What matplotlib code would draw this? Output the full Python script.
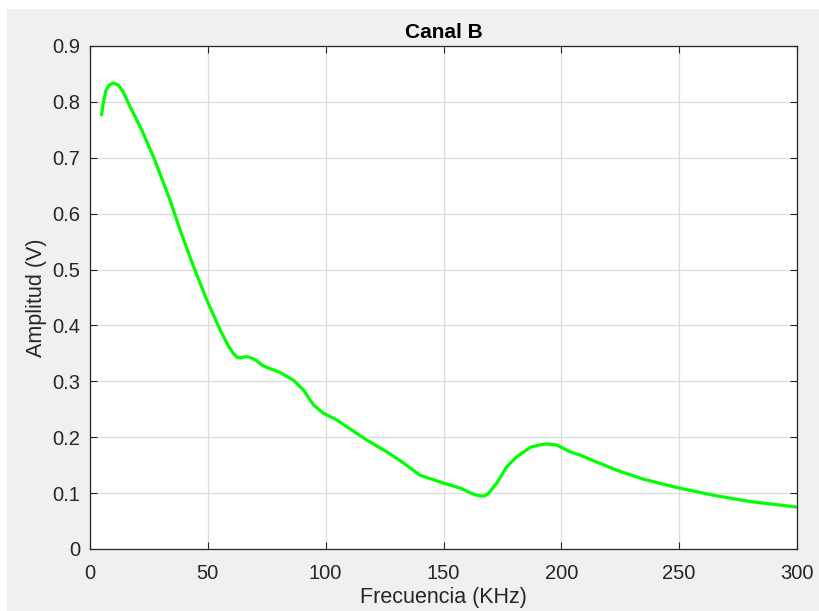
import matplotlib
matplotlib.use("Agg")
import matplotlib.pyplot as plt
from matplotlib.patches import Rectangle

freq_khz = [4.9, 5.6, 6.8, 8.2, 9.9, 12.0, 14.1, 17.0, 19.8, 21.9, 26.9, 33.9, 38.2,
            43.7, 49.5, 55.2, 58.5, 60.8, 62.5, 64.0, 66.0, 67.9, 70.7, 73.0, 75.0,
            80.6, 86.3, 90.5, 94.8, 99.0, 104.7, 108.9, 117.4, 125.9, 133.0, 140.0,
            149.9, 157.0, 161.2, 163.5, 165.5, 167.3, 169.0, 172.6, 176.8, 181.1, 186.8, 190.5,
            193.8, 198.1, 203.7, 208.0, 213.6, 223.5, 234.8, 249.0, 266.0, 280.0, 300.0]
amplitude_v = [0.777, 0.797, 0.821, 0.830, 0.834, 0.830, 0.818, 0.791, 0.768, 0.750, 0.702, 0.625, 0.571,
               0.508, 0.446, 0.392, 0.365, 0.350, 0.343, 0.342, 0.344, 0.343, 0.337, 0.329, 0.325,
               0.316, 0.302, 0.285, 0.258, 0.243, 0.231, 0.219, 0.195, 0.174, 0.154, 0.132,
               0.118, 0.109, 0.101, 0.097, 0.095, 0.095, 0.099, 0.118, 0.147, 0.165, 0.182, 0.186,
               0.188, 0.186, 0.174, 0.168, 0.158, 0.141, 0.125, 0.110, 0.095, 0.085, 0.075]

x_ticks = [0, 50, 100, 150, 200, 250, 300]
y_ticks = [0, 0.1, 0.2, 0.3, 0.4, 0.5, 0.6, 0.7, 0.8, 0.9]
y_labels = ["0", "0.1", "0.2", "0.3", "0.4", "0.5", "0.6", "0.7", "0.8", "0.9"]

plt.rcParams['font.family'] = ['Liberation Sans', 'DejaVu Sans']

fig = plt.figure(figsize=(8.19, 6.11), dpi=100, facecolor='white')
fig.patches.append(Rectangle((7/819, 0), 1 - 7/819, 1 - 9/611, transform=fig.transFigure,
                             facecolor='#f0f0f0', edgecolor='none', zorder=-10))
ax = fig.add_axes([90/819, 1 - 549/611, (797-90)/819, (549-46)/611])
ax.set_facecolor('white')

ax.plot(freq_khz, amplitude_v, color='#00ff00', linewidth=2.3,
        solid_capstyle='round', solid_joinstyle='round')

ax.set_xlim(0, 300)
ax.set_ylim(0, 0.9)
ax.set_xticks(x_ticks)
ax.set_yticks(y_ticks)
ax.set_yticklabels(y_labels)
ax.grid(True, color='#dcdcdc', linewidth=0.9)
ax.set_axisbelow(True)
ax.tick_params(direction='in', top=True, right=True, length=5, width=0.8,
               labelsize=14.5, colors='#262626')
ax.tick_params(axis='x', pad=11)
ax.tick_params(axis='y', pad=7)
for s in ax.spines.values():
    s.set_color('#262626')
    s.set_linewidth(0.9)
ax.set_xlabel('Frecuencia (KHz)', fontsize=15.5, color='#262626', labelpad=3)
ax.set_ylabel('Amplitud (V)', fontsize=15.5, color='#262626', labelpad=4)
ax.set_title('Canal B', fontsize=15, fontweight='bold', color='black', pad=6)

fig.savefig('out.png', dpi=100, facecolor=fig.get_facecolor())
